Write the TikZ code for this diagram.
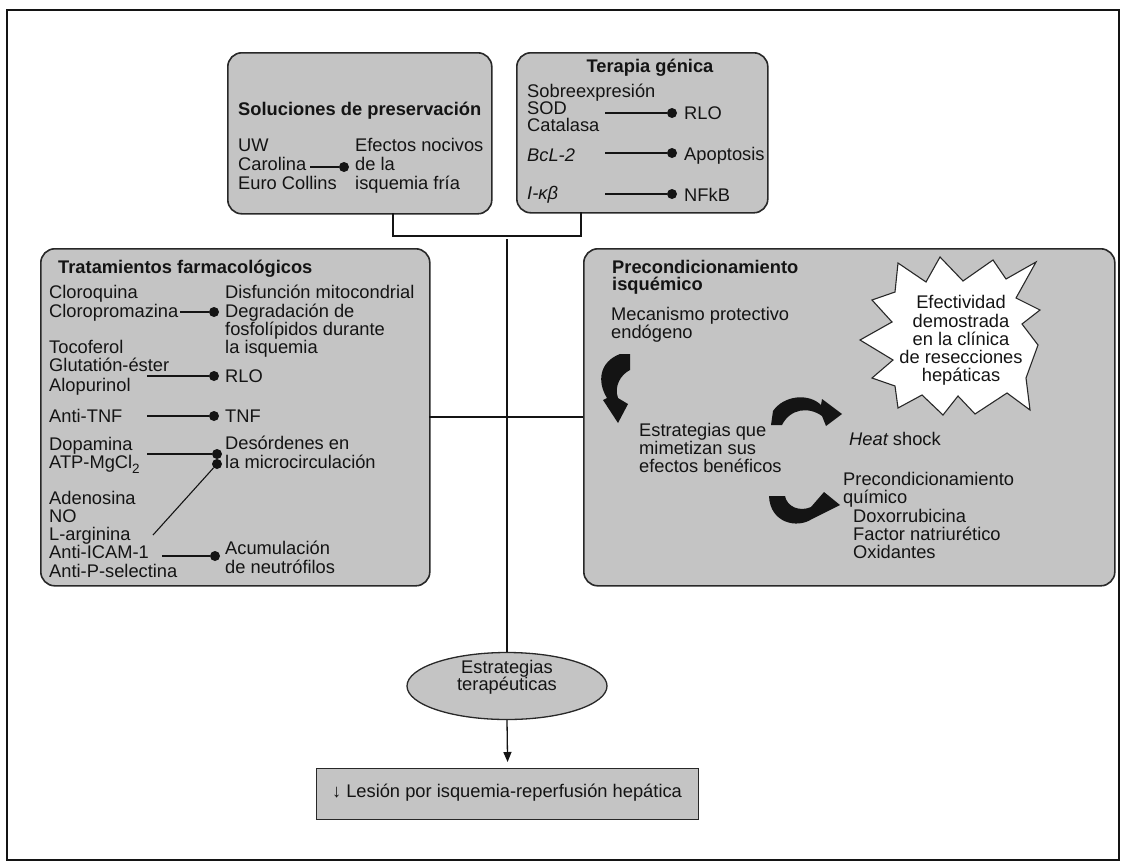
\documentclass[tikz,border=0pt]{standalone}
\usepackage{fontspec}
\setmainfont{Liberation Sans}
\usetikzlibrary{arrows.meta,shapes.geometric}
\definecolor{boxgray}{RGB}{196,196,196}
\definecolor{edgec}{RGB}{40,40,40}
\definecolor{ink}{RGB}{20,20,20}
\begin{document}
\begin{tikzpicture}[x=1pt,y=-1pt,
  every node/.style={font=\fontsize{18.3}{18.5}\selectfont, inner sep=0pt, text=ink},
  t/.style={anchor=base west},
  tc/.style={anchor=base},
  box/.style={draw=edgec, line width=1.6pt, fill=boxgray, rounded corners=14pt, anchor=north west},
  ln/.style={line width=1.1pt, draw=ink},
  conn/.style={line width=1.3pt, draw=ink},
  dot/.style={circle, fill=ink, minimum size=10pt, inner sep=0pt},
  blk/.style={fill=ink}]
\useasboundingbox (0,0) rectangle (1126,865);
\fill[white] (0,0) rectangle (1126,865);
\draw[line width=1.5pt, ink] (7,10) rectangle (1119,860);

% ---------- boxes ----------
\node[box, minimum width=264pt, minimum height=161pt] (sol) at (227,52) {};
\node[box, minimum width=251pt, minimum height=160pt] (gen) at (516,52) {};
\node[box, minimum width=389pt, minimum height=337pt] (farm) at (40,248) {};
\node[box, minimum width=531pt, minimum height=337pt] (pre) at (583,248) {};

% ---------- Soluciones de preservacion ----------
\node[t, font=\fontsize{18.3}{18.5}\selectfont\bfseries] (soltit) at (238,115) {Soluciones de preservación};
\node[t] (uw) at (238,151) {UW};
\node[t] (carol) at (238,170) {Carolina};
\node[t] (euro) at (238,189) {Euro Collins};
\node[t] (efe1) at (355,151) {Efectos nocivos};
\node[t] (efe2) at (355,170) {de la};
\node[t] (efe3) at (355,189) {isquemia fría};
\node[dot] (d1) at (344,167) {};
\draw[ln] (310,167) -- (d1);

% ---------- Terapia genica ----------
\node[tc, font=\fontsize{18.3}{18.5}\selectfont\bfseries] (gentit) at (650,72) {Terapia génica};
\node[t] (sob) at (527,97) {Sobreexpresión};
\node[t] (sod) at (527,114) {SOD};
\node[t] (cat) at (527,131) {Catalasa};
\node[t] (bcl) at (527,161) {\itshape BcL-2};
\node[t] (ikb) at (527,199) {\itshape I-κβ};
\node[dot] (d2) at (672,113) {};
\node[dot] (d3) at (672,153) {};
\node[dot] (d4) at (672,194) {};
\draw[ln] (605,113) -- (d2);
\draw[ln] (605,153) -- (d3);
\draw[ln] (605,194) -- (d4);
\node[t] (rlo1) at (684,119) {RLO};
\node[t] (apo) at (684,160) {Apoptosis};
\node[t] (nfkb) at (684,201) {NFkB};

% ---------- Tratamientos farmacologicos ----------
\node[t, font=\fontsize{18.3}{18.5}\selectfont\bfseries] (fartit) at (58,273) {Tratamientos farmacológicos};
\node[t] (clq) at (49,298) {Cloroquina};
\node[t] (clp) at (49,317) {Cloropromazina};
\node[t] (dis1) at (225,298) {Disfunción mitocondrial};
\node[t] (dis2) at (225,317) {Degradación de};
\node[t] (dis3) at (225,335) {fosfolípidos durante};
\node[t] (dis4) at (225,353) {la isquemia};
\node[dot] (d5) at (214,312) {};
\draw[ln] (180,312) -- (d5);
\node[t] (toc) at (49,353) {Tocoferol};
\node[t] (glu) at (49,371) {Glutatión-éster};
\node[t] (alo) at (49,391) {Alopurinol};
\node[dot] (d6) at (214,376) {};
\draw[ln] (147,376) -- (d6);
\node[t] (rlo2) at (225,382) {RLO};
\node[t] (atnf) at (49,422) {Anti-TNF};
\node[dot] (d7) at (214,416) {};
\draw[ln] (147,416) -- (d7);
\node[t] (tnf) at (225,422) {TNF};
\node[t] (dop) at (49,450) {Dopamina};
\node[t] (atp) at (49,468) {ATP-MgCl\raisebox{-5pt}{\fontsize{13.5}{13.5}\selectfont 2}};
\node[t] (des1) at (225,449) {Desórdenes en};
\node[t] (des2) at (225,468) {la microcirculación};
\node[dot] (d8) at (217,454) {};
\node[dot] (d9) at (217,464) {};
\draw[ln] (147,454) -- (d8);
\draw[ln] (153,535) -- (d9);
\node[t] (ade) at (49,504) {Adenosina};
\node[t] (no) at (49,522) {NO};
\node[t] (larg) at (49,540) {L-arginina};
\node[t] (icam) at (49,558) {Anti-ICAM-1};
\node[t] (psel) at (49,577) {Anti-P-selectina};
\node[dot] (d10) at (215,556) {};
\draw[ln] (162,556) -- (d10);
\node[t] (acu1) at (225,554) {Acumulación};
\node[t] (acu2) at (225,573) {de neutrófilos};

% ---------- Precondicionamiento isquemico ----------
\node[t, font=\fontsize{18.3}{18.5}\selectfont\bfseries] (pretit1) at (612,273) {Precondicionamiento};
\node[t, font=\fontsize{18.3}{18.5}\selectfont\bfseries] (pretit2) at (612,290) {isquémico};
\node[t] (mec1) at (611,320) {Mecanismo protectivo};
\node[t] (mec2) at (611,338) {endógeno};
\node[t] (est1) at (639,436) {Estrategias que};
\node[t] (est2) at (639,454) {mimetizan sus};
\node[t] (est3) at (639,472) {efectos benéficos};
\node[t] (heat) at (849,445) {\itshape Heat\upshape{} shock};
\node[t] (pq1) at (843,485) {Precondicionamiento};
\node[t] (pq2) at (843,503) {químico};
\node[t] (pq3) at (853,522) {Doxorrubicina};
\node[t] (pq4) at (853,540) {Factor natriurético};
\node[t] (pq5) at (853,558) {Oxidantes};

% curved arrows
\fill[blk] (620,354) -- (630,354) -- (630,370) .. controls (620,375) and (614,387) .. (618,398)
  -- (628,404) -- (618,423) -- (603,400) -- (607,398) .. controls (597,382) and (599,362) .. (620,354) -- cycle;
\fill[blk] (771,425) -- (773,411) .. controls (784,395) and (809,393) .. (821,405)
  -- (822,399) -- (842,414) -- (826,426) -- (822,416) .. controls (808,406) and (790,409) .. (782,425) -- cycle;
\fill[blk] (769,496) -- (785,496) .. controls (787,507) and (800,512) .. (811,507)
  -- (824,492) -- (840,505) -- (812,519) .. controls (797,529) and (770,523) .. (769,496) -- cycle;

% burst
\draw[draw=edgec, line width=1.1pt, fill=white, line join=miter]
  (898,263) -- (926,282) -- (940,257) -- (963,281) -- (993,260) -- (1006,279) -- (1036,262)
  -- (1016,298) -- (1040,310) -- (1022,324) -- (1038,345) -- (1026,378) -- (1030,410)
  -- (1007,393) -- (975,414) -- (958,396) -- (943,415) -- (922,395) -- (898,408)
  -- (895,386) -- (872,378) -- (893,360) -- (860,340) -- (892,322) -- (872,300) -- (895,292) -- cycle;
\node[tc] (bu1) at (961,308) {Efectividad};
\node[tc] (bu2) at (961,327) {demostrada};
\node[tc] (bu3) at (961,345) {en la clínica};
\node[tc] (bu4) at (961,363) {de resecciones};
\node[tc] (bu5) at (961,381) {hepáticas};

% ---------- bottom ----------
\node[draw=edgec, line width=1.3pt, fill=boxgray, ellipse, minimum width=200pt, minimum height=67pt] (estr) at (507,686) {};
\node[tc] (estr1) at (507,673) {Estrategias};
\node[tc] (estr2) at (507,690) {terapéuticas};
\node[draw=edgec, line width=1.3pt, fill=boxgray, anchor=north west, minimum width=382pt, minimum height=51pt] (les) at (316,768) {};
\node[tc] (lestxt) at (507,797) {↓ Lesión por isquemia-reperfusión hepática};

% ---------- connectors ----------
\draw[conn] (393,213) |- (581,236) -- (581,212);
\draw[conn] (507,239) -- (estr.north);
\draw[conn] (429,417) -- (583,417);
\draw[conn, -{Triangle[width=8pt,length=10pt]}, shorten >=6pt] (estr.south) -- (les.north);
\end{tikzpicture}
\end{document}
